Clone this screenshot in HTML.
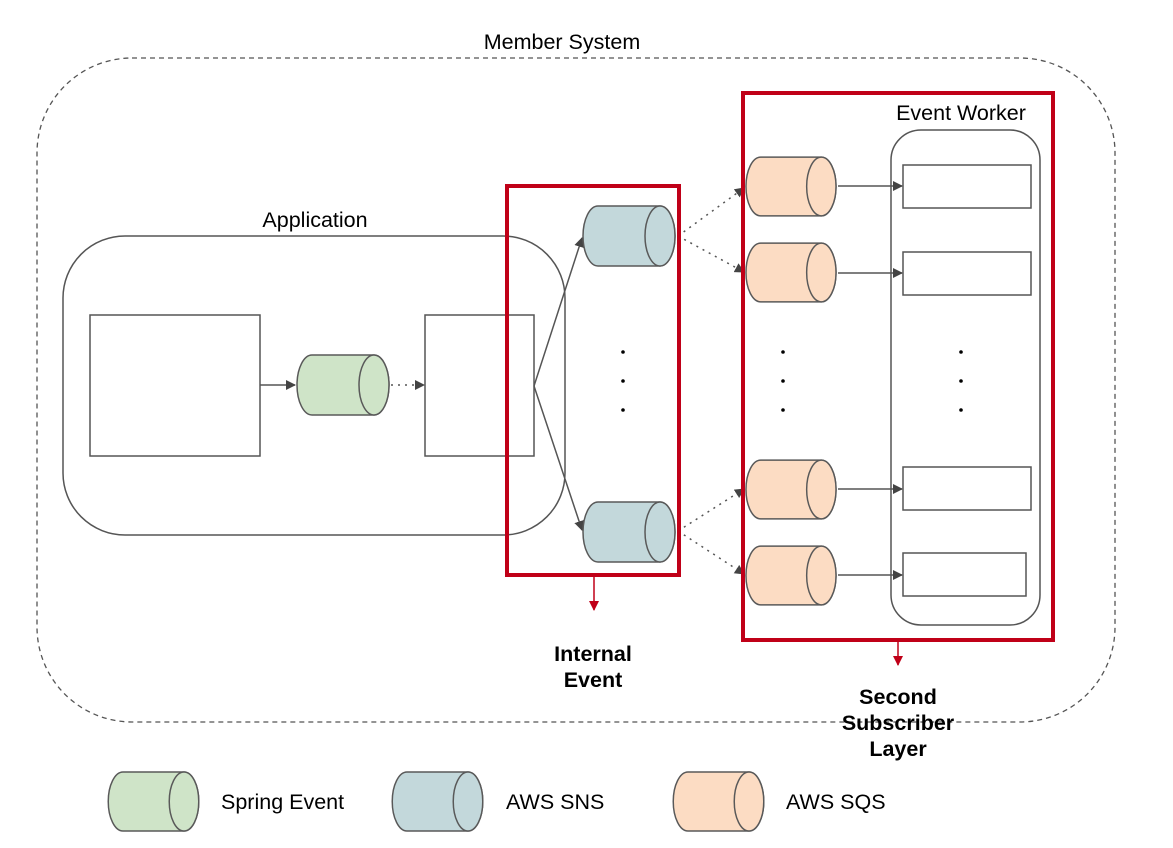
<!DOCTYPE html>
<html><head><style>body{margin:0;background:#fff}svg{display:block}text{font-family:"Liberation Sans",sans-serif;fill:#000}</style></head><body>
<svg width="1173" height="848" viewBox="0 0 1173 848" xmlns="http://www.w3.org/2000/svg">
<defs>
<marker id="a" markerWidth="10" markerHeight="10" refX="9" refY="5" orient="auto" markerUnits="userSpaceOnUse"><path d="M0,0 L10,5 L0,10 z" fill="#444"/></marker>
<marker id="r" markerWidth="10" markerHeight="10" refX="9" refY="5" orient="auto" markerUnits="userSpaceOnUse"><path d="M0,0 L10,5 L0,10 z" fill="#c00018"/></marker>
<symbol id="cyl" viewBox="0 0 94 62" overflow="visible"><path d="M16,1 H78 A15,30 0 0 1 78,61 H16 A15,30 0 0 1 16,1 z" stroke="#595959" stroke-width="1.5"/><ellipse cx="78" cy="31" rx="15" ry="30" stroke="#595959" stroke-width="1.5"/></symbol>
</defs>
<g font-size="21.5">
<text x="562" y="49" text-anchor="middle">Member System</text>
<text x="315" y="227" text-anchor="middle">Application</text>
<text x="961" y="120" text-anchor="middle">Event Worker</text>
</g>
<rect x="37" y="58" width="1078" height="664" rx="95" fill="none" stroke="#555" stroke-width="1.3" stroke-dasharray="5,4"/>
<rect x="63" y="236" width="502" height="299" rx="62" fill="none" stroke="#555" stroke-width="1.5"/>
<rect x="90" y="315" width="170" height="141" fill="#fff" stroke="#555" stroke-width="1.5"/>
<rect x="425" y="315" width="109" height="141" fill="#fff" stroke="#555" stroke-width="1.5"/>
<line x1="260" y1="385" x2="295" y2="385" stroke="#555" stroke-width="1.5" marker-end="url(#a)"/>
<use href="#cyl" x="296" y="354" width="94" height="62" fill="#cfe4c8"/>
<line x1="391" y1="385" x2="424" y2="385" stroke="#555" stroke-width="1.5" stroke-dasharray="2,5" marker-end="url(#a)"/>
<line x1="534" y1="386" x2="582" y2="238" stroke="#555" stroke-width="1.5" marker-end="url(#a)"/>
<line x1="534" y1="386" x2="582" y2="530" stroke="#555" stroke-width="1.5" marker-end="url(#a)"/>
<use href="#cyl" x="582" y="205" width="94" height="62" fill="#c3d8db"/>
<use href="#cyl" x="582" y="501" width="94" height="62" fill="#c3d8db"/>
<g fill="#000"><circle cx="623" cy="352" r="1.8"/><circle cx="623" cy="381" r="1.8"/><circle cx="623" cy="410" r="1.8"/>
<circle cx="783" cy="352" r="1.8"/><circle cx="783" cy="381" r="1.8"/><circle cx="783" cy="410" r="1.8"/>
<circle cx="961" cy="352" r="1.8"/><circle cx="961" cy="381" r="1.8"/><circle cx="961" cy="410" r="1.8"/></g>
<rect x="891" y="130" width="149" height="495" rx="30" fill="none" stroke="#555" stroke-width="1.5"/>
<g stroke="#555" stroke-width="1.5" fill="#fff">
<rect x="903" y="165" width="128" height="43"/><rect x="903" y="252" width="128" height="43"/>
<rect x="903" y="467" width="128" height="43"/><rect x="903" y="553" width="123" height="43"/>
</g>
<g stroke="#555" stroke-width="1.5" stroke-dasharray="2,5">
<line x1="678" y1="236" x2="744" y2="188" marker-end="url(#a)"/>
<line x1="678" y1="236" x2="744" y2="272" marker-end="url(#a)"/>
<line x1="678" y1="531" x2="744" y2="489" marker-end="url(#a)"/>
<line x1="678" y1="531" x2="744" y2="574" marker-end="url(#a)"/>
</g>
<use href="#cyl" x="745" y="156" width="92" height="61" fill="#fcdcc3"/>
<use href="#cyl" x="745" y="242" width="92" height="61" fill="#fcdcc3"/>
<use href="#cyl" x="745" y="459" width="92" height="61" fill="#fcdcc3"/>
<use href="#cyl" x="745" y="545" width="92" height="61" fill="#fcdcc3"/>
<g stroke="#555" stroke-width="1.5">
<line x1="838" y1="186" x2="902" y2="186" marker-end="url(#a)"/>
<line x1="838" y1="273" x2="902" y2="273" marker-end="url(#a)"/>
<line x1="838" y1="489" x2="902" y2="489" marker-end="url(#a)"/>
<line x1="838" y1="575" x2="902" y2="575" marker-end="url(#a)"/>
</g>
<rect x="507" y="186" width="172" height="389" fill="none" stroke="#c00018" stroke-width="4"/>
<rect x="743" y="93" width="310" height="547" fill="none" stroke="#c00018" stroke-width="4"/>
<line x1="594" y1="577" x2="594" y2="610" stroke="#c00018" stroke-width="1.5" marker-end="url(#r)"/>
<line x1="898" y1="642" x2="898" y2="665" stroke="#c00018" stroke-width="1.5" marker-end="url(#r)"/>
<g font-size="21.5" font-weight="bold" text-anchor="middle">
<text x="593" y="661">Internal</text><text x="593" y="687">Event</text>
<text x="898" y="704">Second</text><text x="898" y="730">Subscriber</text><text x="898" y="756">Layer</text>
</g>
<use href="#cyl" x="107" y="771" width="93" height="61" fill="#cfe4c8"/>
<use href="#cyl" x="391" y="771" width="93" height="61" fill="#c3d8db"/>
<use href="#cyl" x="672" y="771" width="93" height="61" fill="#fcdcc3"/>
<g font-size="21.5"><text x="221" y="809">Spring Event</text><text x="506" y="809">AWS SNS</text><text x="786" y="809">AWS SQS</text></g>
</svg>
</body></html>
